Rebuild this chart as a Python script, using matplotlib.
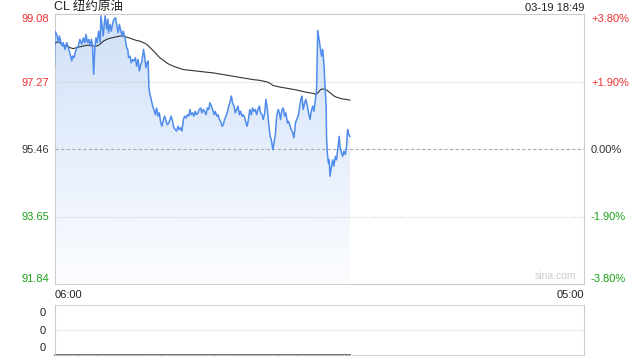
import numpy as np
import matplotlib
matplotlib.use("Agg")
import matplotlib.pyplot as plt
from matplotlib.patches import Polygon

plt.rcParams['font.family'] = ['Liberation Sans', 'Noto Sans CJK SC', 'DejaVu Sans']

# ── Data (minutes after 06:00, price) ──────────────────────────────────────
minutes = [0, 1, 6, 10, 13, 16, 20, 23, 27, 32, 36, 40, 45, 47, 51, 54, 58, 62, 66, 71,
           75, 79, 82, 86, 89, 93, 96, 99, 102, 105, 108, 111, 115, 119, 121, 124, 127, 130, 132, 136,
           139, 141, 145, 148, 152, 155, 159, 162, 166, 169, 172, 176, 179, 183, 186, 188, 191, 193, 197, 200,
           204, 207, 211, 214, 218, 221, 225, 228, 232, 235, 238, 241, 244, 246, 249, 252, 256, 259, 263, 266,
           270, 273, 277, 280, 284, 287, 291, 294, 298, 301, 304, 308, 311, 315, 318, 322, 325, 329, 332, 336,
           339, 343, 346, 350, 353, 356, 360, 363, 367, 370, 374, 377, 381, 384, 388, 391, 395, 398, 402, 405,
           409, 412, 416, 419, 423, 426, 430, 433, 437, 440, 443, 447, 450, 454, 457, 461, 464, 468, 471, 475,
           478, 482, 485, 489, 492, 496, 499, 502, 506, 509, 513, 516, 520, 523, 527, 530, 534, 537, 541, 544,
           548, 551, 555, 558, 562, 565, 569, 572, 576, 579, 583, 586, 589, 593, 596, 600, 603, 607, 610, 614,
           617, 621, 624, 628, 631, 635, 638, 642, 645, 648, 652, 655, 659, 662, 666, 669, 673, 676, 680, 683,
           686, 692, 696, 699, 702, 705, 708, 709, 711, 714, 716, 718, 722, 725, 728, 732, 735, 739, 742, 744,
           748, 751, 754, 758, 761, 764, 767, 770]
price = [97.68, 98.62, 98.53, 98.31, 98.49, 98.35, 98.22, 98.31, 98.13, 98.31, 98.18, 98.04, 97.82, 97.95, 97.91, 98.04, 98.18, 98.22, 98.40, 98.27,
         98.44, 98.31, 98.53, 98.31, 98.40, 98.22, 98.40, 98.27, 97.46, 98.13, 98.44, 98.31, 98.62, 98.31, 99.03, 98.76, 98.49, 98.85, 99.03, 98.67,
         98.94, 98.58, 98.80, 98.62, 98.85, 98.94, 98.98, 98.80, 98.58, 98.80, 98.67, 98.49, 98.62, 98.49, 98.31, 98.18, 98.13, 97.91, 97.95, 97.77,
         97.86, 97.82, 97.91, 97.68, 97.86, 97.55, 97.73, 97.82, 98.13, 97.95, 97.64, 97.77, 97.82, 97.10, 96.92, 96.79, 96.61, 96.52, 96.38, 96.56,
         96.34, 96.43, 96.16, 96.07, 96.25, 96.34, 96.20, 96.11, 96.16, 96.25, 96.34, 96.20, 96.03, 95.98, 95.94, 96.07, 95.98, 96.03, 95.94, 96.25,
         96.34, 96.29, 96.38, 96.34, 96.52, 96.38, 96.43, 96.34, 96.47, 96.38, 96.43, 96.52, 96.56, 96.43, 96.52, 96.47, 96.38, 96.56, 96.52, 96.70,
         96.61, 96.52, 96.38, 96.47, 96.34, 96.38, 96.25, 96.20, 96.07, 96.11, 96.25, 96.34, 96.43, 96.61, 96.70, 96.88, 96.70, 96.61, 96.43, 96.52,
         96.61, 96.38, 96.47, 96.34, 96.38, 96.29, 96.16, 96.07, 96.29, 96.52, 96.38, 96.56, 96.47, 96.52, 96.38, 96.52, 96.61, 96.43, 96.38, 96.25,
         96.43, 96.79, 96.52, 96.16, 95.80, 95.71, 95.44, 95.62, 95.89, 96.34, 96.52, 96.43, 96.25, 96.52, 96.56, 96.34, 96.43, 96.16, 96.20, 96.07,
         95.98, 95.89, 95.76, 96.16, 96.25, 96.34, 96.52, 96.79, 96.88, 96.52, 96.70, 96.79, 96.61, 96.43, 96.25, 96.47, 96.61, 96.47, 96.79, 97.06,
         98.64, 98.22, 97.95, 98.13, 97.77, 97.15, 96.61, 95.80, 95.35, 95.08, 95.17, 94.73, 95.00, 95.17, 95.00, 95.26, 95.17, 95.53, 95.80, 95.53,
         95.35, 95.26, 95.40, 95.31, 95.53, 95.98, 95.85, 95.80]

avg_minutes = [0, 6, 14, 23, 32, 40, 49, 58, 66, 75, 84, 93, 101, 110, 119, 127, 136, 145, 153, 162,
               171, 179, 188, 197, 205, 214, 223, 232, 240, 249, 258, 266, 275, 284, 292, 301, 310, 318, 327, 336,
               344, 362, 379, 396, 414, 431, 449, 466, 483, 501, 518, 536, 553, 562, 570, 588, 605, 622, 640, 657,
               675, 681, 688, 694, 701, 709, 718, 727, 735, 744, 752, 761, 770]
avg_price = [98.27, 98.33, 98.31, 98.24, 98.22, 98.18, 98.15, 98.18, 98.20, 98.22, 98.24, 98.24, 98.22, 98.22, 98.27, 98.35, 98.40, 98.43, 98.45, 98.47,
             98.49, 98.49, 98.46, 98.43, 98.40, 98.37, 98.35, 98.31, 98.27, 98.18, 98.09, 98.00, 97.90, 97.84, 97.77, 97.72, 97.68, 97.65, 97.62, 97.59,
             97.58, 97.56, 97.54, 97.52, 97.50, 97.47, 97.44, 97.41, 97.38, 97.35, 97.32, 97.30, 97.26, 97.22, 97.16, 97.12, 97.09, 97.06, 97.02, 96.98,
             96.95, 96.92, 96.98, 97.06, 97.07, 97.04, 96.97, 96.89, 96.85, 96.82, 96.80, 96.79, 96.77]

prev_close = 95.46
price_ticks = [91.84, 93.65, 95.46, 97.27, 99.08]
pct_labels = ['-3.80%', '-1.90%', '0.00%', '+1.90%', '+3.80%']
tick_colors = ['#1aa21a', '#1aa21a', '#333333', '#f03030', '#f03030']
vol_minutes = [0, 769]
vol_values = [0, 0]
vol_labels = ['0', '0', '0']

fig = plt.figure(figsize=(6.4, 3.6), dpi=100)
ax = fig.add_axes([54.5 / 640, 1 - 284 / 360, 529.5 / 640, 270 / 360])
ax.set_xlim(0, 1380)
ax.set_ylim(price_ticks[0], price_ticks[-1])

# gradient fill under the price line
poly = Polygon(list(zip(minutes, price)) + [(minutes[-1], price_ticks[0]), (minutes[0], price_ticks[0])],
               closed=True, facecolor='none', edgecolor='none')
ax.add_patch(poly)
grad = np.linspace(0, 1, 256).reshape(-1, 1)
top_c = np.array([208, 224, 248]) / 255
bot_c = np.array([252, 253, 255]) / 255
img = top_c * (1 - grad[..., None]) + bot_c * grad[..., None]
im = ax.imshow(img, extent=[0, 1380, price_ticks[0], price_ticks[-1]], origin='upper',
               aspect='auto', zorder=1)
im.set_clip_path(poly)

# grid
for p in price_ticks[1:-1]:
    if p == prev_close:
        ax.axhline(p, color='#aaaaaa', lw=0.8, ls=(0, (3, 2)), zorder=2)
    else:
        ax.axhline(p, color='#cccccc', lw=0.8, ls=(0, (1, 1.5)), zorder=2)

ax.plot(minutes, price, color='#4f8cec', lw=1.1, zorder=4)
ax.plot(avg_minutes, avg_price, color='#333333', lw=0.8, zorder=3)

for s in ax.spines.values():
    s.set_color('#cccccc')
    s.set_linewidth(0.8)

ax.set_yticks(price_ticks, [f'{p:.2f}' for p in price_ticks])
ax.tick_params(axis='y', length=0, pad=4, labelsize=8)

ax2 = ax.twinx()
ax2.set_ylim(ax.get_ylim())
ax2.set_yticks(price_ticks, pct_labels)
ax2.tick_params(axis='y', length=0, pad=5, labelsize=8)
for s in ax2.spines.values():
    s.set_visible(False)

for labels in (ax.get_yticklabels(), ax2.get_yticklabels()):
    for lbl, c in zip(labels, tick_colors):
        lbl.set_color(c)
    labels[0].set_va('bottom')
    labels[-1].set_va('top')

ax.set_xticks([0, 1380], ['06:00', '05:00'])
ax.tick_params(axis='x', length=0, pad=4, labelsize=8, labelcolor='#222222')
xl = ax.get_xticklabels()
xl[0].set_ha('left')
xl[1].set_ha('right')

ax.text(0, 1 + 7 / 270, 'CL 纽约原油', transform=ax.transAxes, ha='left', va='center',
        fontsize=9, color='#222222')
ax.text(1, 1 + 6 / 270, '03-19 18:49', transform=ax.transAxes, ha='right', va='center',
        fontsize=8, color='#222222')
ax.text(0.985, 0.012, 'sina.com', transform=ax.transAxes, ha='right', va='bottom',
        fontsize=7.5, color='#cccccc')

# volume panel
axv = fig.add_axes([54.5 / 640, 1 - 355 / 360, 529.5 / 640, 50 / 360])
axv.set_xlim(0, 1380)
axv.set_ylim(0, 1)
axv.plot(vol_minutes, vol_values, color='#555555', lw=1.2, clip_on=False)
axv.axhline(0.5, color='#cccccc', lw=0.8, ls=(0, (1, 1.5)))
axv.spines['top'].set_linestyle((0, (1, 1.5)))
axv.spines['bottom'].set_linestyle((0, (1, 1.5)))
for s in axv.spines.values():
    s.set_color('#cccccc')
    s.set_linewidth(0.8)
axv.set_xticks([])
axv.set_yticks([0.16, 0.5, 0.87], vol_labels)
axv.tick_params(axis='y', length=0, pad=6, labelsize=8, labelcolor='#222222')

fig.savefig('out.png', dpi=100)
